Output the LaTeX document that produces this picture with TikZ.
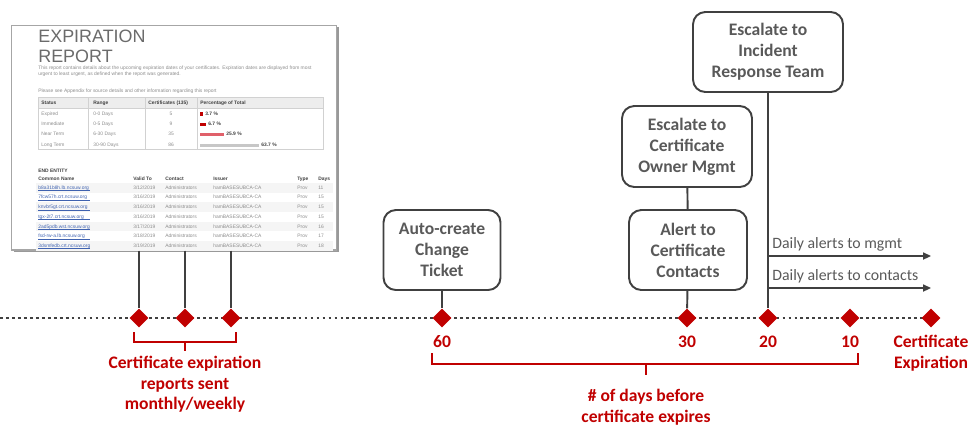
\documentclass[tikz,border=0pt]{standalone}
\usepackage{fontspec}
\setmainfont{Carlito}
\newfontfamily\reportfont{Liberation Sans}
\usetikzlibrary{shapes.geometric,arrows.meta,shadows}

\definecolor{alertred}{HTML}{C00000}
\definecolor{boxgray}{HTML}{595959}
\definecolor{linegray}{HTML}{404040}
\definecolor{linkblue}{HTML}{3F62B0}
\definecolor{barred}{HTML}{E0606A}

\tikzset{
  stepbox/.style={draw=linegray, line width=1.1pt, rounded corners=7pt, fill=white,
    align=center, text=boxgray, inner sep=2pt,
    font=\bfseries\fontsize{10}{11.9}\selectfont},
  marker/.style={diamond, fill=alertred, inner sep=0pt,
    minimum width=0.38cm, minimum height=0.38cm},
  stem/.style={draw=linegray, line width=1.1pt},
  timeline/.style={draw=linegray, line width=1.6pt, dash pattern=on 1.6pt off 1.8pt},
  bracket/.style={draw=alertred, line width=1.1pt},
  redlabel/.style={text=alertred, align=center, inner sep=0pt,
    font=\bfseries\fontsize{10}{11.7}\selectfont},
  dailyarrow/.style={draw=linegray, line width=0.9pt, -{Triangle[length=4.5pt,width=4pt]}},
  dailylabel/.style={text=boxgray, anchor=base west, inner sep=0pt,
    font=\fontsize{9}{10}\selectfont},
  reportbox/.style={draw=black!35, line width=0.6pt, fill=white,
    drop shadow={shadow xshift=1.4pt, shadow yshift=-1.4pt, fill=black!40, opacity=1}},
  rpttitle/.style={text=black!58, anchor=base west, inner sep=0pt,
    font=\reportfont\fontsize{10.2}{10.2}\selectfont},
  rpt/.style={text=black!45, anchor=base west, inner sep=0pt,
    font=\reportfont\fontsize{2.8}{3}\selectfont},
  rpthead/.style={rpt, text=black!75, font=\reportfont\bfseries\fontsize{2.8}{3}\selectfont},
  tablerule/.style={draw=black!18, line width=0.3pt}
}

\begin{document}
\begin{tikzpicture}[x=0.02cm, y=-0.02cm]
  \useasboundingbox (0,0) rectangle (969,424);

  % Expiration report screenshot
  \node[reportbox, minimum width=6.5cm, minimum height=4.5cm] (report) at (174,137.5) {};
  \node[rpttitle] (title1) at (38,42) {EXPIRATION};
  \node[rpttitle] (title2) at (38,62) {REPORT};
  \node[rpt] at (38,69.5) {This report contains details about the upcoming expiration dates of your certificates. Expiration dates are displayed from most};
  \node[rpt] at (38,75.5) {urgent to least urgent, as defined when the report was generated.};
  \node[rpt] at (38,92.5) {Please see Appendix for source details and other information regarding this report};

  % Summary table
  \fill[black!7] (38,97) rectangle (323,108);
  \draw[tablerule] (38,97) rectangle (323,149);
  \draw[tablerule] (38,108) -- (323,108);
  \draw[tablerule] (88,97) -- (88,149) (145,97) -- (145,149) (197,97) -- (197,149);
  \node[rpthead] at (41,104.5) {Status};
  \node[rpthead] at (93,104.5) {Range};
  \node[rpthead] at (148,104.5) {Certificates (135)};
  \node[rpthead] at (200,104.5) {Percentage of Total};

  \node[rpt] at (41,115) {Expired};
  \node[rpt] at (93,115) {0-0 Days};
  \node[rpt, anchor=base] at (171,115) {5};
  \fill[alertred] (200,112) rectangle (203,115.5);
  \node[rpthead] at (205,115) {3.7 \%};

  \node[rpt] at (41,125) {Immediate};
  \node[rpt] at (93,125) {0-5 Days};
  \node[rpt, anchor=base] at (171,125) {9};
  \fill[alertred] (200,122.5) rectangle (206,125.5);
  \node[rpthead] at (208,125) {6.7 \%};

  \node[rpt] at (41,135.5) {Near Term};
  \node[rpt] at (93,135.5) {6-30 Days};
  \node[rpt, anchor=base] at (171,135.5) {35};
  \fill[barred] (200,133) rectangle (224,136);
  \node[rpthead] at (226,135.5) {25.9 \%};

  \node[rpt] at (41,146) {Long Term};
  \node[rpt] at (93,146) {30-90 Days};
  \node[rpt, anchor=base] at (171,146) {86};
  \fill[black!22] (200,143.5) rectangle (259,146.5);
  \node[rpthead] at (261,146) {63.7 \%};

  % End entity list
  \node[rpthead] at (38,172) {END ENTITY};
  \node[rpthead] at (38,180) {Common Name};
  \node[rpthead] at (133,180) {Valid To};
  \node[rpthead] at (165,180) {Contact};
  \node[rpthead] at (213,180) {Issuer};
  \node[rpthead] at (297,180) {Type};
  \node[rpthead] at (318,180) {Days};
  \foreach \nm/\dt/\dy [count=\i] in {
      b8a31b8h.lb.ncsuw.org/{3/12/2019}/11,
      7fcw57h.crt.ncsuw.org/{3/16/2019}/15,
      knvbr5gt.crt.ncsuw.org/{3/16/2019}/15,
      tgx-2t7.crt.ncsuw.org/{3/16/2019}/15,
      2ad5pdb.wst.ncsuw.org/{3/17/2019}/16,
      fsd-rw-a.lb.ncsuw.org/{3/18/2019}/17,
      3dsmfedb.crt.ncsuw.org/{3/19/2019}/18} {
    \ifodd\i \fill[black!4] (36,{173.3+9.7*\i}) rectangle (333,{182.9+9.7*\i}); \fi
    \node[rpt, text=linkblue] at (38,{179.5+9.7*\i}) {\nm};
    \draw[linkblue, line width=0.2pt] (38,{180.7+9.7*\i}) -- (90,{180.7+9.7*\i});
    \node[rpt] at (133,{179.5+9.7*\i}) {\dt};
    \node[rpt] at (165,{179.5+9.7*\i}) {Administrators};
    \node[rpt] at (213,{179.5+9.7*\i}) {hamBASESUBCA-CA};
    \node[rpt] at (297,{179.5+9.7*\i}) {Prov};
    \node[rpt] at (318,{179.5+9.7*\i}) {\dy};
  }

  % Timeline
  \coordinate (tstart) at (0,318);
  \coordinate (tend) at (931,318);
  \draw[timeline] (tstart) -- (tend);
  \node[marker] (d1) at (139,318) {};
  \node[marker] (d2) at (185,318) {};
  \node[marker] (d3) at (231,318) {};
  \node[marker] (d4) at (442,318) {};
  \node[marker] (d5) at (687,318) {};
  \node[marker] (d6) at (768,318) {};
  \node[marker] (d7) at (850,318) {};
  \node[marker] (d8) at (tend) {};

  % Reports sent from the screenshot
  \draw[stem] (report.south -| d1) -- (d1);
  \draw[stem] (report.south -| d2) -- (d2);
  \draw[stem] (report.south -| d3) -- (d3);

  % Action boxes
  \node[stepbox, minimum width=2.34cm, minimum height=1.6cm] (ticket) at (442,250) {Auto-create\\Change\\Ticket};
  \node[stepbox, minimum width=2.36cm, minimum height=1.6cm] (contacts) at (688,250) {Alert to\\Certificate\\Contacts};
  \node[stepbox, minimum width=2.6cm, minimum height=1.62cm] (owner) at (687,146.5) {Escalate to\\Certificate\\Owner Mgmt};
  \node[stepbox, minimum width=3.0cm, minimum height=1.6cm] (irt) at (768,52) {Escalate to\\Incident\\Response Team};

  \draw[stem] (ticket) -- (d4);
  \draw[stem] (contacts) -- (d5);
  \draw[stem] (owner) -- (contacts);
  \draw[stem] (irt) -- (d6);

  % Daily alerts
  \coordinate (mgmt) at (768,256);
  \coordinate (cont) at (768,288);
  \draw[dailyarrow] (mgmt) -- (mgmt -| d8);
  \draw[dailyarrow] (cont) -- (cont -| d8);
  \node[dailylabel] (mgmtlbl) at (772,248) {Daily alerts to mgmt};
  \node[dailylabel] (contlbl) at (772,280) {Daily alerts to contacts};

  % Day numbers
  \node[redlabel, anchor=base] (n60) at (442,347) {60};
  \node[redlabel, anchor=base] (n30) at (687,347) {30};
  \node[redlabel, anchor=base] (n20) at (768,347) {20};
  \node[redlabel, anchor=base] (n10) at (850,347) {10};
  \node[redlabel, anchor=north] (expiry) at (931,335) {Certificate\\Expiration};

  % Brackets and their labels
  \draw[bracket] (134,332) -- (134,342) -- (236,342) -- (236,332);
  \draw[bracket] (185,342) -- (185,351);
  \node[redlabel, anchor=north] (sentlbl) at (185,356) {Certificate expiration\\reports sent\\monthly/weekly};

  \draw[bracket] (432,353) -- (432,364) -- (858,364) -- (858,353);
  \draw[bracket] (646,364) -- (646,375);
  \node[redlabel, anchor=north] (dayslbl) at (646,389) {\# of days before\\certificate expires};
\end{tikzpicture}
\end{document}
